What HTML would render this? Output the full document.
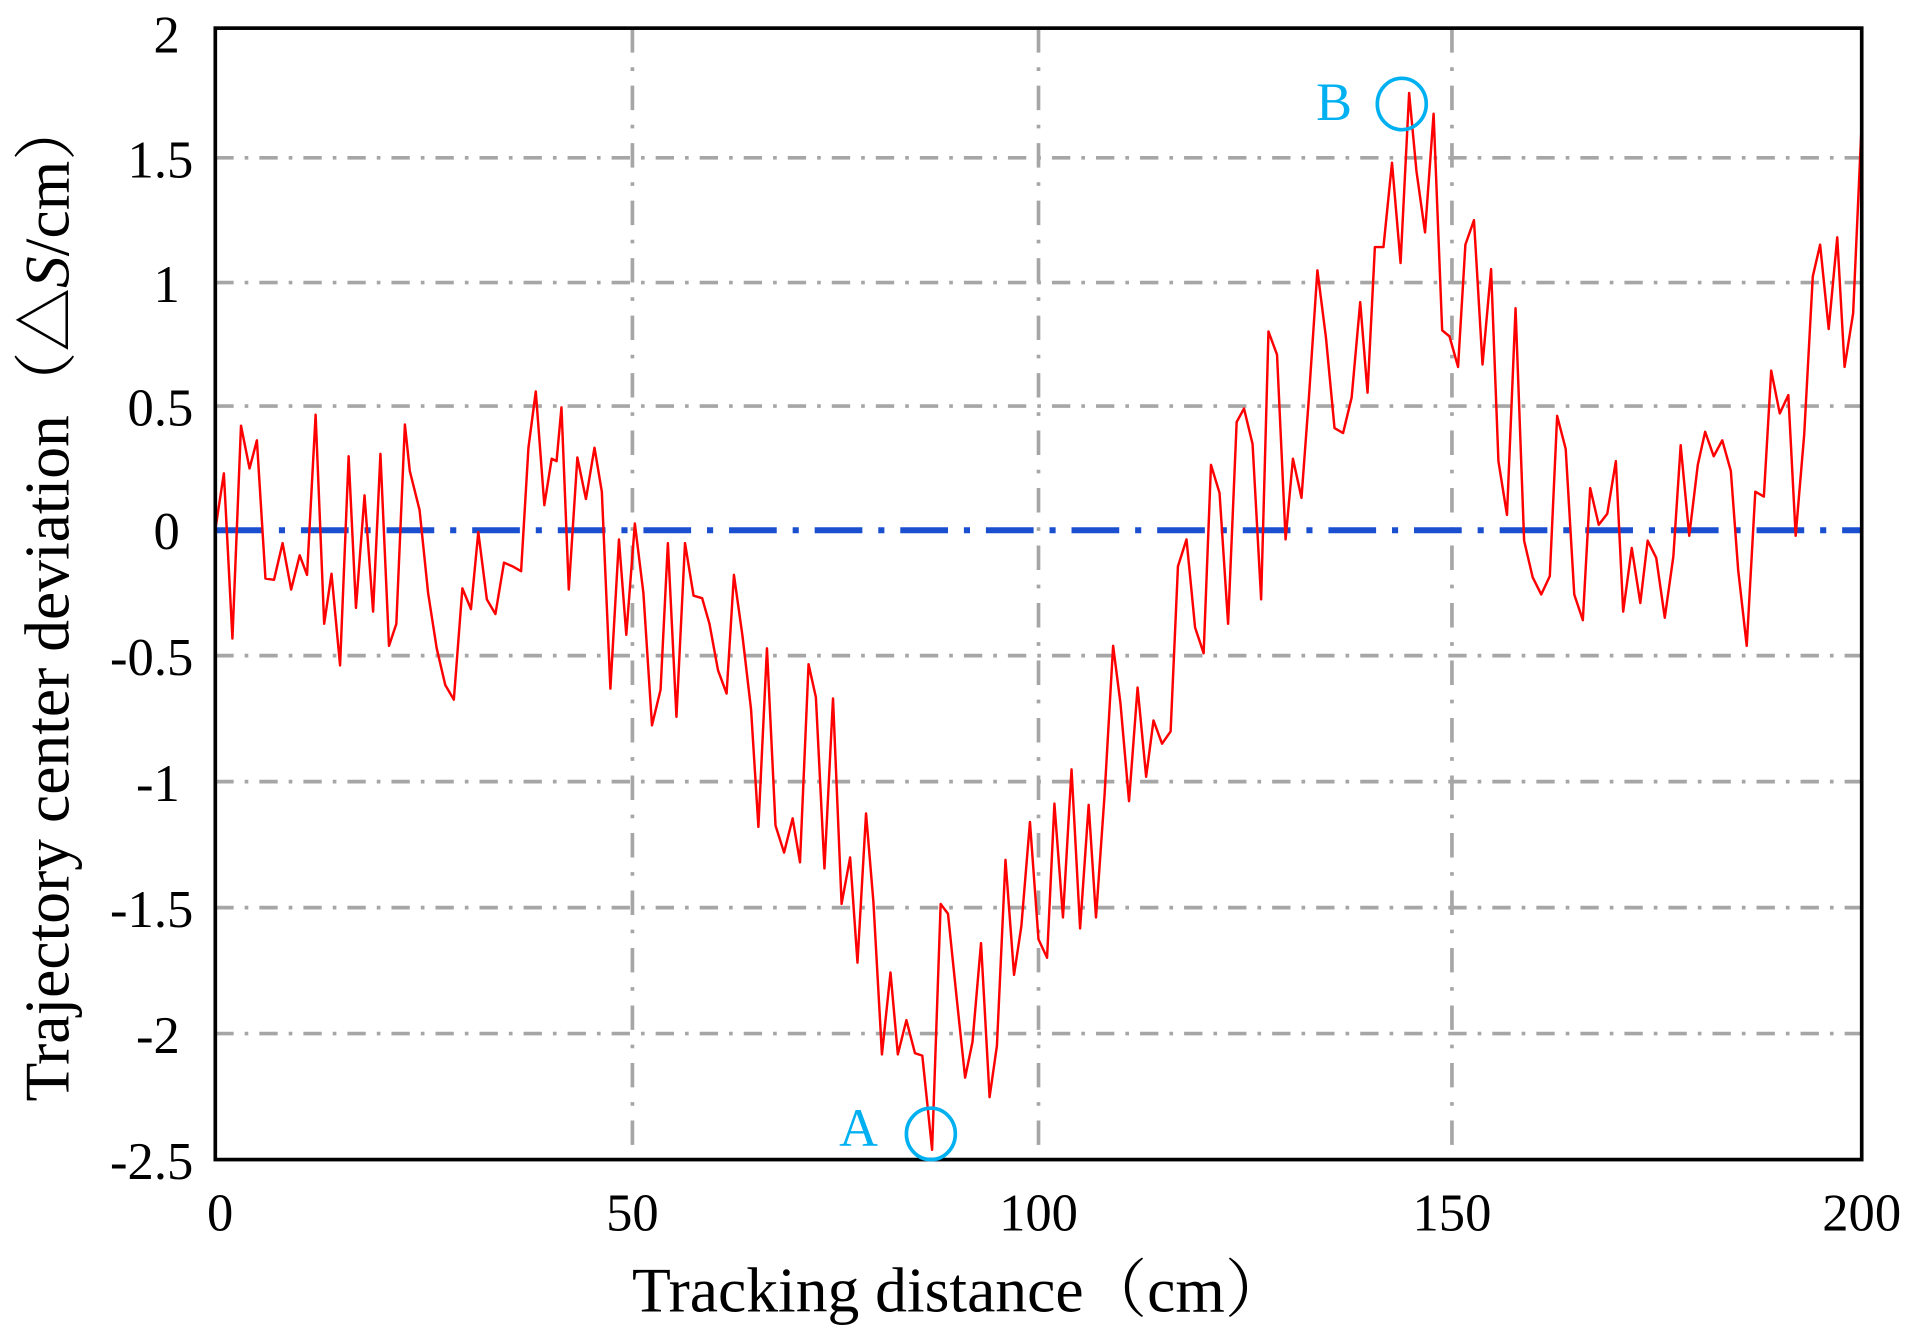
<!DOCTYPE html>
<html><head><meta charset="utf-8"><style>html,body{margin:0;padding:0;background:#fff}svg{display:block}</style></head><body>
<svg width="1918" height="1340" viewBox="0 0 1568 1095.5" xmlns="http://www.w3.org/2000/svg" font-family="'Liberation Serif','Noto Serif CJK SC',serif">
<rect width="1568" height="1095.5" fill="#fff"/>
<g stroke="#a6a6a6" stroke-width="3" stroke-dasharray="15 9 3 9" fill="none">
<line x1="176" y1="129" x2="1522" y2="129"/>
<line x1="176" y1="231" x2="1522" y2="231"/>
<line x1="176" y1="332" x2="1522" y2="332"/>
<line x1="176" y1="536" x2="1522" y2="536"/>
<line x1="176" y1="639" x2="1522" y2="639"/>
<line x1="176" y1="742" x2="1522" y2="742"/>
<line x1="176" y1="845" x2="1522" y2="845"/>
</g>
<g stroke="#a6a6a6" stroke-width="3" stroke-dasharray="20 12 3 12" fill="none">
<line x1="517" y1="23" x2="517" y2="948"/>
<line x1="849" y1="23" x2="849" y2="948"/>
<line x1="1187" y1="23" x2="1187" y2="948"/>
</g>
<line x1="176" y1="433.5" x2="1522" y2="433.5" stroke="#1a4fd0" stroke-width="5" stroke-dasharray="39 13 5 13"/>
<polyline fill="none" stroke="#ff0000" stroke-width="2" stroke-linejoin="round" points="176,433 183,387 190,522 197,348 204,383 210,360 217,473 224,474 231,444 238,482 245,454 251,470 258,339 265,510 271,469 278,544 285,373 291,497 298,405 305,500 311,371 318,528 324,510 331,347 335,385 343,417 350,485 357,530 364,560 371,572 378,481 385,498 391,435 398,490 405,502 412,460 419,463 426,467 432,366 438,320 445,413 451,375 455,377 459,333 465,482 472,374 479,408 486,366 492,402 499,563 506,441 512,519 519,428 526,485 533,593 540,564 546,444 553,586 560,444 567,487 574,489 580,510 587,548 594,567 600,470 607,520 614,580 620,676 627,530 634,675 641,697 648,669 654,705 661,543 667,570 674,710 681,571 688,739 695,701 701,787 708,665 714,737 721,862 728,795 734,862 741,834 748,861 754,863 762,940 769,739 775,747 782,815 789,881 795,852 802,771 809,897 815,855 822,703 829,797 835,757 842,672 849,768 856,783 862,657 869,750 876,629 883,759 890,658 896,750 903,650 910,528 916,575 923,655 930,562 937,635 943,589 950,608 957,598 963,463 970,441 977,513 984,534 990,380 997,403 1004,510 1011,345 1017,334 1024,363 1031,490 1037,271 1044,290 1051,441 1057,375 1064,407 1070,326 1077,221 1084,276 1091,350 1098,354 1105,325 1112,247 1118,321 1124,202 1131,202 1138,133 1145,215 1152,76 1158,140 1165,190 1172,93 1179,270 1185,275 1192,300 1198,200 1205,180 1212,298 1219,220 1225,377 1232,421 1239,252 1246,442 1253,472 1260,486 1267,471 1273,340 1280,367 1287,486 1294,507 1300,399 1307,429 1314,420 1321,377 1327,500 1334,448 1341,493 1347,442 1354,456 1361,505 1368,455 1374,364 1381,438 1388,380 1394,353 1401,373 1408,360 1415,385 1421,466 1428,528 1435,402 1442,406 1448,303 1455,338 1462,323 1468,438 1475,355 1482,226 1488,200 1495,269 1502,194 1508,300 1515,256 1522,100"/>
<rect x="176" y="23" width="1346" height="925" fill="none" stroke="#000" stroke-width="3"/>
<g fill="none" stroke="#00b0f0" stroke-width="3">
<ellipse cx="761" cy="927" rx="20" ry="21"/>
<ellipse cx="1146" cy="85" rx="20" ry="21"/>
</g>
<g fill="#00b0f0" font-size="44">
<text x="686" y="937">A</text>
<text x="1076" y="98">B</text>
</g>
<g font-size="43" fill="#000" text-anchor="end">
<text x="147" y="43">2</text>
<text x="158" y="145">1.5</text>
<text x="147" y="247">1</text>
<text x="158" y="348">0.5</text>
<text x="147" y="449">0</text>
<text x="158" y="552">-0.5</text>
<text x="147" y="655">-1</text>
<text x="158" y="758">-1.5</text>
<text x="147" y="861">-2</text>
<text x="158" y="964">-2.5</text>
</g>
<g font-size="43" fill="#000" text-anchor="middle">
<text x="180" y="1006">0</text>
<text x="517" y="1006">50</text>
<text x="849" y="1006">100</text>
<text x="1187" y="1006">150</text>
<text x="1522" y="1006">200</text>
</g>
<text x="785" y="1072" font-size="52" text-anchor="middle">Tracking distance（cm）</text>
<text transform="translate(56,490) rotate(-90)" font-size="52" text-anchor="middle">Trajectory center deviation（△<tspan font-style="italic">S</tspan>/cm）</text>
</svg>
</body></html>
